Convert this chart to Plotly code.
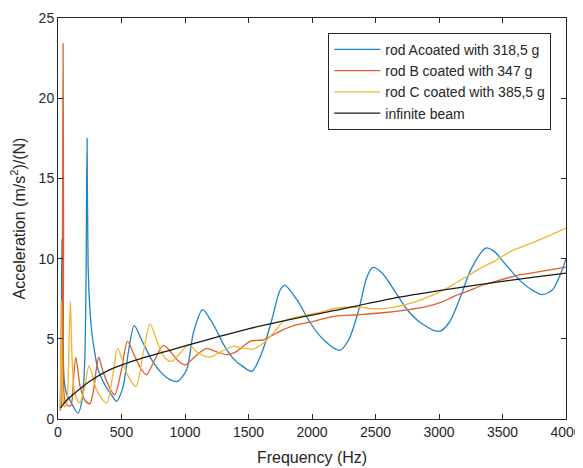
import plotly.graph_objects as go

# ---- data ----
freq_A = [18, 25, 31, 37, 48, 66, 92, 118, 158, 190, 210, 221, 229, 237, 250, 265, 284, 316, 369, 421,
          461, 513, 553, 600, 658, 737, 816, 882, 940, 1013, 1066, 1138, 1200, 1250, 1300, 1382, 1460,
          1526, 1605, 1684, 1750, 1786, 1881, 1986, 2091, 2218, 2289, 2368, 2434, 2481, 2552, 2644,
          2750, 2855, 3000, 3079, 3171, 3250, 3368, 3434, 3539, 3644, 3750, 3815, 3894, 3960, 4000]
acc_A = [0.6, 5.0, 11.2, 5.0, 2.5, 1.6, 1.2, 0.8, 0.37, 1.2, 3.5, 9.0, 17.5, 9.5, 7.0, 5.5, 4.4, 3.07, 2.13, 1.51,
         1.1, 2.03, 4.11, 5.82, 4.94, 3.7, 2.86, 2.45, 2.34, 3.07, 5.36, 6.82, 6.2, 5.5, 4.7, 3.75, 3.25,
         2.97, 4.13, 6.2, 8.06, 8.33, 7.44, 6.0, 4.94, 4.28, 4.94, 6.8, 8.89, 9.45, 9.1, 8.06,
         6.81, 6.0, 5.46, 6.0, 7.65, 9.3, 10.66, 10.45, 9.5, 8.58, 7.96, 7.75, 8.06, 9.1, 10.0]

freq_B = [18, 28, 32, 36, 40, 44, 48, 60, 90, 105, 122, 140, 175, 210, 250, 280, 300, 321, 345, 369,
          421, 447, 500, 547, 605, 658, 697, 750, 829, 895, 950, 1005, 1079, 1171, 1237, 1329, 1408,
          1513, 1618, 1697, 1776, 1855, 2013, 2171, 2355, 2539, 2750, 2907, 3013, 3118, 3223, 3355,
          3486, 3644, 3802, 4000]
acc_B = [0.5, 1.0, 1.5, 12.0, 23.4, 12.0, 1.5, 1.0, 0.8, 0.9, 2.5, 3.86, 2.0, 1.2, 0.95, 1.8, 3.0, 3.86, 3.2, 2.65,
         1.72, 1.51, 3.07, 4.84, 3.9, 3.07, 2.76, 3.49, 4.59, 4.11, 3.6, 3.38, 3.9, 4.4, 4.22, 4.01, 4.22,
         4.84, 4.94, 5.26, 5.57, 5.82, 6.09, 6.4, 6.5, 6.61, 6.81, 7.02, 7.27, 7.65, 7.96, 8.37,
         8.68, 9.0, 9.2, 9.47]

freq_C = [18, 22, 26, 30, 38, 50, 61, 75, 88, 98, 110, 132, 171, 210, 245, 303, 382, 434, 469, 540,
          613, 671, 724, 790, 842, 895, 974, 1026, 1105, 1197, 1289, 1382, 1460, 1539, 1618, 1697,
          1776, 1907, 2039, 2197, 2355, 2513, 2644, 2802, 2960, 3065, 3197, 3329, 3434, 3565, 3697,
          3828, 4000]
acc_C = [0.6, 4.0, 7.33, 4.0, 1.5, 0.8, 0.79, 1.5, 5.0, 7.33, 4.0, 1.62, 1.0, 2.0, 3.33, 1.83, 1.0, 2.86, 4.42, 2.86,
         2.03, 4.11, 5.92, 4.63, 3.8, 3.59, 4.22, 4.63, 4.11, 3.86, 4.22, 4.53, 4.42, 4.37, 4.74, 5.36,
         6.09, 6.4, 6.61, 6.92, 6.98, 6.86, 6.98, 7.27, 7.75, 8.17, 8.79, 9.41, 9.83, 10.45, 10.87,
         11.29, 11.9]

freq_beam = [20, 60, 119, 250, 382, 513, 645, 800, 987, 1250, 1513, 1908, 2171, 2697, 3223, 3750, 4000]
acc_beam = [0.69, 1.1, 1.52, 2.35, 2.97, 3.4, 3.75, 4.1, 4.53, 5.1, 5.65, 6.34, 6.75, 7.61, 8.27, 8.85, 9.1]

names = ["rod Acoated with 318,5 g", "rod B coated with 347 g", "rod C coated with 385,5 g", "infinite beam"]
colors = ["#1f83c8", "#dd5f2a", "#efb72e", "#1a1a1a"]

x_ticks = [0, 500, 1000, 1500, 2000, 2500, 3000, 3500, 4000]
y_ticks = [0, 5, 10, 15, 20, 25]

FONT = "Liberation Sans, Arial, sans-serif"
AX = "#262626"

fig = go.Figure()
for fx, fy, nm, col in zip([freq_A, freq_B, freq_C, freq_beam], [acc_A, acc_B, acc_C, acc_beam], names, colors):
    fig.add_trace(go.Scatter(x=fx, y=fy, name=nm, mode="lines",
                             line=dict(color=col, width=1.3, shape="spline", smoothing=0.8)))

axis_common = dict(showline=True, linecolor=AX, linewidth=1, mirror="ticks", ticks="inside",
                   ticklen=5, tickcolor=AX, tickwidth=1, showgrid=False, zeroline=False,
                   automargin=False,
                   tickfont=dict(family=FONT, size=14, color=AX))

# the page body adds an 8px offset, so the figure is sized to fill the rest of the window
fig.update_layout(
    width=575, height=460,
    margin=dict(l=50, r=17, t=10, b=49, autoexpand=False),
    paper_bgcolor="white", plot_bgcolor="white",
    font=dict(family=FONT, color=AX),
    xaxis=dict(range=[0, 4000], tickvals=x_ticks, ticktext=[str(v) for v in x_ticks],
               title=dict(text="Frequency (Hz)", font=dict(family=FONT, size=16, color=AX), standoff=13),
               **axis_common),
    yaxis=dict(range=[0, 25], tickvals=y_ticks, ticktext=[str(v) for v in y_ticks],
               title=dict(text="Acceleration (m/s<sup>2</sup>)/(N)", font=dict(family=FONT, size=16, color=AX), standoff=11),
               **axis_common),
    legend=dict(x=0.971, y=0.963, xanchor="right", yanchor="top",
                bgcolor="white", bordercolor=AX, borderwidth=1,
                font=dict(family=FONT, size=14, color=AX),
                itemwidth=46, tracegroupgap=0),
    showlegend=True,
)

fig.write_html("out.html")
